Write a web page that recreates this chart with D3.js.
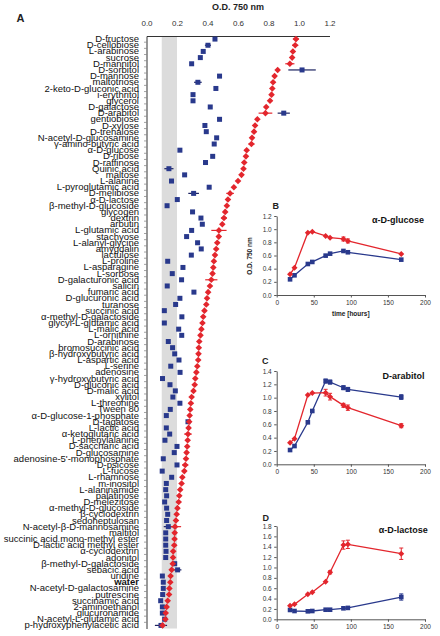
<!DOCTYPE html>
<html><head><meta charset="utf-8">
<script src="https://cdn.jsdelivr.net/npm/d3@7"></script>
<style>body{margin:0;background:#fff}svg{display:block;font-family:"Liberation Sans",Arial,sans-serif}</style>
</head><body><svg id="c" width="440" height="636"></svg>
<script>
const categories = ["D-fructose","D-cellobiose","L-arabinose","sucrose","D-mannitol","D-sorbitol","D-mannose","maltotriose","2-keto-D-gluconic acid","i-erythritol","glycerol","D-galactose","D-arabitol","gentiobiose","D-xylose","D-trehalose","N-acetyl-D-glucosamine","γ-amino-butyric acid","α-D-glucose","D-ribose","D-raffinose","Quinic acid","maltose","L-alanine","L-pyroglutamic acid","D-melibiose","α-D-lactose","β-methyl-D-glucoside","glycogen","dextrin","arbutin","L-glutamic acid","stachyose","L-alanyl-glycine","amygdalin","lactulose","L-proline","L-asparagine","L-sorbose","D-galacturonic acid","salicin","fumaric acid","D-glucuronic acid","turanose","succinic acid","α-methyl-D-galactoside","glycyl-L-glutamic acid","L-malic acid","L-ornithine","D-arabinose","bromosuccinic acid","β-hydroxybutyric acid","L-aspartic acid","L-serine","adenosine","γ-hydroxybutyric acid","D-gluconic acid","D-malic acid","xylitol","L-threonine","Tween 80","α-D-glucose-1-phosphate","D-tagatose","L-lactic acid","α-ketoglutaric acid","L-phenylalanine","D-saccharic acid","D-glucosamine","adenosine-5'-monophosphate","D-psicose","L-fucose","L-rhamnose","m-inositol","L-alaninamide","palatinose","D-melezitose","α-methyl-D-glucoside","β-cyclodextrin","sedoheptulosan","N-acetyl-β-D-mannosamine","maltitol","succinic acid mono-methyl ester","D-lactic acid methyl ester","α-cyclodextrin","adonitol","β-methyl-D-galactoside","sebacic acid","uridine","water","N-acetyl-D-galactosamine","putrescine","succinamic acid","2-aminoethanol","glucuronamide","N-acetyl-L-glutamic acid","p-hydroxyphenylacetic acid"];
const blueOD = [0.449,0.403,0.372,0.353,0.296,1.02,0.479,0.337,0.455,0.305,0.305,0.418,0.90,0.479,0.383,0.392,0.46,0.444,0.219,0.434,0.387,0.147,0.25,0.164,0.411,0.309,0.202,0.135,0.302,0.357,0.366,0.296,0.263,0.335,0.359,0.294,0.139,0.239,0.169,0.23,0.136,0.311,0.219,0.191,0.117,0.232,0.117,0.211,0.231,0.143,0.171,0.185,0.213,0.159,0.22,0.105,0.154,0.189,0.173,0.219,0.156,0.13,0.272,0.13,0.152,0.121,0.2,0.182,0.11,0.2,0.103,0.165,0.13,0.126,0.132,0.119,0.132,0.139,0.132,0.143,0.126,0.126,0.126,0.128,0.126,0.185,0.204,0.104,0.11,0.11,0.106,0.093,0.104,0.104,0.119,0.095];
const redOD = [0.98,0.975,0.96,0.955,0.94,0.86,0.84,0.83,0.825,0.82,0.81,0.785,0.78,0.727,0.712,0.705,0.692,0.688,0.657,0.652,0.641,0.636,0.623,0.6,0.573,0.548,0.534,0.527,0.516,0.508,0.497,0.475,0.474,0.464,0.457,0.449,0.442,0.438,0.433,0.425,0.416,0.404,0.397,0.392,0.38,0.372,0.367,0.36,0.354,0.346,0.343,0.341,0.339,0.333,0.327,0.32,0.316,0.308,0.296,0.291,0.287,0.283,0.28,0.276,0.272,0.27,0.267,0.263,0.259,0.254,0.248,0.235,0.23,0.221,0.215,0.211,0.203,0.198,0.193,0.187,0.185,0.184,0.182,0.175,0.174,0.172,0.165,0.158,0.156,0.15,0.148,0.139,0.132,0.126,0.124,0.105];
const blueErr = [["D-cellobiose",0.02],["maltotriose",0.025],["D-sorbitol",0.09],["D-arabitol",0.04],["Quinic acid",0.03],["D-melibiose",0.035],["N-acetyl-β-D-mannosamine",0.03],["sebacic acid",0.025],["p-hydroxyphenylacetic acid",0.04]];
const redErr = [["D-fructose",0.02],["D-cellobiose",0.02],["D-mannitol",0.03],["D-arabitol",0.045],["γ-amino-butyric acid",0.02],["D-melibiose",0.025],["dextrin",0.02],["L-glutamic acid",0.05],["D-galacturonic acid",0.04],["α-ketoglutaric acid",0.025],["D-psicose",0.02],["N-acetyl-β-D-mannosamine",0.04]];
const xTicks = [0,0.2,0.4,0.6,0.8,1.0,1.2];

const hours = [18,24,42,48,66,72,90,96,168];
const timeTicks = [0,50,100,150,200];
const glucoseRed = [0.315,0.415,0.947,0.962,0.897,0.871,0.851,0.821,0.623];
const glucoseBlue = [0.238,0.299,0.471,0.502,0.598,0.628,0.669,0.649,0.537];
const glucoseRedErr = [0,0,0,0,0,0,0.03,0.03,0];
const glucoseBlueErr = [0,0,0,0,0,0,0,0,0];
const arabitolRed = [0.324,0.384,1.04,1.069,1.075,1.015,0.885,0.85,0.579];
const arabitolBlue = [0.214,0.274,0.63,0.80,1.249,1.234,1.149,1.124,1.009];
const arabitolRedErr = [0,0,0,0,0.05,0.05,0.03,0.04,0.03];
const arabitolBlueErr = [0.02,0,0,0,0.03,0.03,0.03,0.03,0.035];
const lactoseRed = [0.262,0.289,0.482,0.521,0.725,0.906,1.433,1.446,1.265];
const lactoseBlue = [0.18,0.16,0.154,0.16,0.185,0.185,0.212,0.22,0.43];
const lactoseRedErr = [0,0,0,0,0,0.03,0.08,0.08,0.11];
const lactoseBlueErr = [0,0,0,0,0,0,0,0,0.06];

const BLUE = "#29398c", RED = "#e3262d";
const svg = d3.select("#c");
const diamond = r => `M0,${-r}L${r},0L0,${r}L${-r},0Z`;

// ---------- Panel A ----------
const X = d3.scaleLinear().domain([0,1.2]).range([146.5,329.5]);
const Y = d3.scaleBand().domain(categories).range([36,628.5]);
const yc = d => Y(d) + Y.bandwidth()/2;

svg.append("rect").attr("x",X(0.1)).attr("y",36).attr("width",X(0.2)-X(0.1)).attr("height",592.5).attr("fill","#dcdcdc");

const topAx = svg.append("g").attr("transform","translate(0,36)")
  .call(d3.axisTop(X).tickValues(xTicks).tickFormat(d3.format(".1f")).tickSize(0).tickPadding(10));
topAx.select(".domain").attr("stroke","#333").attr("stroke-width",1);
topAx.selectAll("text").attr("font-size",8).attr("fill","#333");

const leftAx = svg.append("g").attr("transform","translate(146.5,0)")
  .call(d3.axisLeft(Y).tickSize(0).tickPadding(7.5));
leftAx.select(".domain").attr("stroke","#333").attr("stroke-width",1);
leftAx.selectAll("text").attr("font-size",9.5).attr("fill","#111")
  .attr("font-weight",d => d==="water" ? "bold" : null);
// small category separators
svg.append("g").selectAll("line").data(categories.slice(1)).join("line")
  .attr("x1",X(0)-2.5).attr("x2",X(0)).attr("y1",d=>Y(d)).attr("y2",d=>Y(d))
  .attr("stroke","#666").attr("stroke-width",0.6);

svg.append("text").attr("x",X(0.6)).attr("y",10).attr("text-anchor","middle")
  .attr("font-size",9).attr("font-weight","bold").attr("fill","#222").text("O.D. 750 nm");
svg.append("text").attr("x",16.5).attr("y",22).attr("font-size",11).attr("font-weight","bold").attr("fill","#222").text("A");

const blueMap = new Map(categories.map((c,i)=>[c,blueOD[i]]));
const redMap = new Map(categories.map((c,i)=>[c,redOD[i]]));
function hErr(g, list, map, color){
  g.selectAll(null).data(list).join("line")
    .attr("x1",d=>X(map.get(d[0])-d[1])).attr("x2",d=>X(map.get(d[0])+d[1]))
    .attr("y1",d=>yc(d[0])).attr("y2",d=>yc(d[0])).attr("stroke",color).attr("stroke-width",1.2);
}
const gA = svg.append("g");
hErr(gA, blueErr, blueMap, "#1b2260");
hErr(gA, redErr, redMap, RED);
gA.selectAll(null).data(categories).join("rect")
  .attr("x",d=>X(blueMap.get(d))-2.5).attr("y",d=>yc(d)-2.5).attr("width",5).attr("height",5).attr("fill",BLUE);
gA.selectAll(null).data(categories).join("path")
  .attr("transform",d=>`translate(${X(redMap.get(d))},${yc(d)})`).attr("d",diamond(3.3)).attr("fill",RED);

// ---------- Insets ----------
const XI = d3.scaleLinear().domain([0,200]).range([276.7,425]);
function inset(cfg){
  const yS = d3.scaleLinear().domain([0,cfg.max]).range([cfg.y0, cfg.y0 - cfg.h]);
  const g = svg.append("g");
  const ticks = d3.range(0, cfg.max+0.001, 0.2);
  const ya = g.append("g").attr("transform",`translate(${XI(0)},0)`)
    .call(d3.axisLeft(yS).tickValues(ticks).tickFormat(d3.format(".1f")).tickSize(2.5).tickSizeOuter(0).tickPadding(2.5));
  const xa = g.append("g").attr("transform",`translate(0,${cfg.y0})`)
    .call(d3.axisBottom(XI).tickValues(timeTicks).tickSize(2.5).tickSizeOuter(0).tickPadding(2.5));
  [ya,xa].forEach(a=>{a.selectAll("path,line").attr("stroke","#555");a.selectAll("text").attr("font-size",6.5).attr("fill","#333");});
  g.append("text").attr("x",cfg.lx).attr("y",cfg.ly).attr("font-size",9).attr("font-weight","bold").attr("fill","#222").text(cfg.letter);
  g.append("text").attr("x",cfg.tx).attr("y",cfg.ty).attr("text-anchor","middle").attr("font-size",9).attr("font-weight","bold").attr("fill","#111").text(cfg.title);
  const series = [
    {v:cfg.blue, e:cfg.blueErr, c:BLUE, shape:"sq"},
    {v:cfg.red, e:cfg.redErr, c:RED, shape:"di"}
  ];
  const line = d3.line().x((d,i)=>XI(hours[i])).y(d=>yS(d));
  series.forEach(s=>{
    g.append("path").attr("d",line(s.v)).attr("fill","none").attr("stroke",s.c).attr("stroke-width",1.3);
    s.v.forEach((v,i)=>{
      const e = s.e[i];
      if(e>0){
        const x = XI(hours[i]);
        g.append("line").attr("x1",x).attr("x2",x).attr("y1",yS(v-e)).attr("y2",yS(v+e)).attr("stroke",s.c).attr("stroke-width",1);
        [v-e,v+e].forEach(w=>g.append("line").attr("x1",x-2).attr("x2",x+2).attr("y1",yS(w)).attr("y2",yS(w)).attr("stroke",s.c).attr("stroke-width",1));
      }
    });
    s.v.forEach((v,i)=>{
      if(s.shape==="sq") g.append("rect").attr("x",XI(hours[i])-2.3).attr("y",yS(v)-2.3).attr("width",4.6).attr("height",4.6).attr("fill",s.c);
      else g.append("path").attr("transform",`translate(${XI(hours[i])},${yS(v)})`).attr("d",diamond(3)).attr("fill",s.c);
    });
  });
  return g;
}
inset({letter:"B",lx:272.5,ly:208.5,title:"α-D-glucose",tx:398,ty:223,max:1.2,y0:295,h:79,red:glucoseRed,blue:glucoseBlue,redErr:glucoseRedErr,blueErr:glucoseBlueErr});
svg.append("text").attr("transform","translate(252,256) rotate(-90)").attr("text-anchor","middle")
  .attr("font-size",6.5).attr("font-weight","bold").attr("fill","#222").text("O.D. 750 nm");
svg.append("text").attr("x",XI(100)).attr("y",316).attr("text-anchor","middle")
  .attr("font-size",6.5).attr("font-weight","bold").attr("fill","#222").text("time [hours]");
inset({letter:"C",lx:262,ly:364,title:"D-arabitol",tx:403.5,ty:379,max:1.4,y0:464.3,h:93.3,red:arabitolRed,blue:arabitolBlue,redErr:arabitolRedErr,blueErr:arabitolBlueErr});
inset({letter:"D",lx:262.5,ly:520.5,title:"α-D-lactose",tx:403.3,ty:533,max:1.8,y0:619.3,h:93.3,red:lactoseRed,blue:lactoseBlue,redErr:lactoseRedErr,blueErr:lactoseBlueErr});
</script></body></html>
